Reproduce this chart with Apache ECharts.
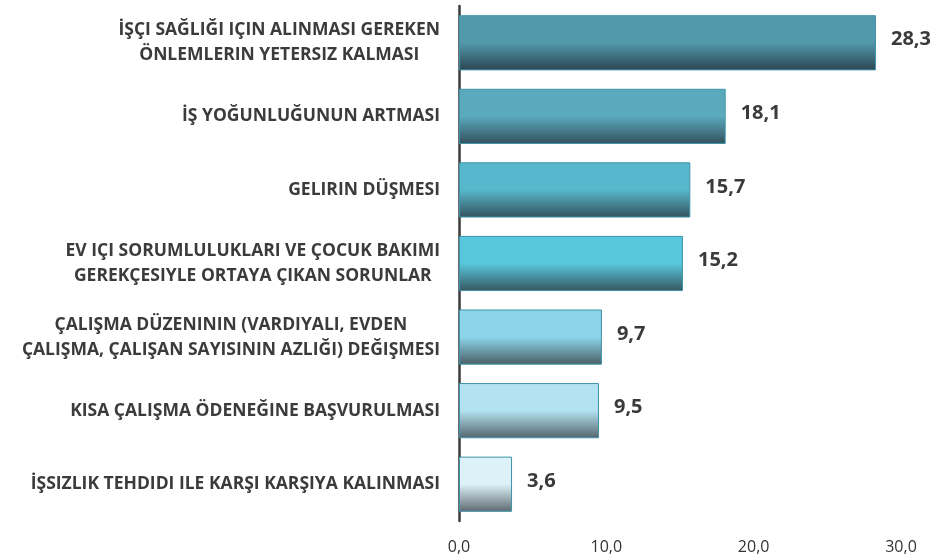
<!DOCTYPE html>
<html>
<head>
<meta charset="utf-8">
<script src="https://cdn.jsdelivr.net/npm/echarts@6/dist/echarts.min.js"></script>
<style>
  html, body { margin: 0; padding: 0; background: #fff; }
  #myChart { width: 945px; height: 558px; }
</style>
</head>
<body>
<div id="myChart"></div>
<script>
// data
const categories = [
    'İŞÇI SAĞLIĞI IÇIN ALINMASI GEREKEN\nÖNLEMLERIN YETERSIZ KALMASI',
    'İŞ YOĞUNLUĞUNUN ARTMASI',
    'GELIRIN DÜŞMESI',
    'EV IÇI SORUMLULUKLARI VE ÇOCUK BAKIMI\nGEREKÇESIYLE ORTAYA ÇIKAN SORUNLAR',
    'ÇALIŞMA DÜZENININ (VARDIYALI, EVDEN\nÇALIŞMA, ÇALIŞAN SAYISININ AZLIĞI) DEĞIŞMESI',
    'KISA ÇALIŞMA ÖDENEĞINE BAŞVURULMASI',
    'İŞSIZLIK TEHDIDI ILE KARŞI KARŞIYA KALINMASI'
];
const values = [28.3, 18.1, 15.7, 15.2, 9.7, 9.5, 3.6];

// bar colours, top to bottom
const topColors = ['#5299ab', '#5aa9bc', '#57b7cc', '#57c7dd', '#8cd5e9', '#b3e2f1', '#dcf1f8'];
const bottomColors = ['#2c4550', '#33505b', '#34525d', '#36555f', '#4a5e66', '#56656c', '#5d6a70'];
const borderColor = '#3e93a8';

const fmt = v => v.toFixed(1).replace('.', ',');

let myEchart = echarts.init(document.getElementById('myChart'));
myEchart.setOption({
    animation: false,
    grid: { left: 459, right: 44, top: 6, bottom: 37 },
    xAxis: {
        type: 'value',
        min: 0,
        max: 30,
        interval: 10,
        splitLine: { show: false },
        axisLine: { show: false },
        axisTick: { show: false },
        axisLabel: {
            margin: 18,
            fontFamily: 'Open Sans',
            fontSize: 16,
            color: '#333',
            formatter: fmt
        }
    },
    yAxis: {
        type: 'category',
        inverse: true,
        data: categories,
        axisTick: { show: false },
        axisLine: { lineStyle: { color: '#3a3a3a', width: 2.5 } },
        axisLabel: {
            margin: 19,
            align: 'right',
            color: '#3b3b3b',
            // each line centred inside the right-aligned block
            formatter: v => v.split('\n').map(s => '{c|' + s + '}').join('\n'),
            rich: {
                c: {
                    align: 'center',
                    fontFamily: 'Open Sans',
                    fontWeight: 'bold',
                    fontSize: 17.5,
                    lineHeight: 25,
                    color: '#3b3b3b'
                }
            }
        }
    },
    series: [{
        type: 'bar',
        barWidth: '75%',
        data: values.map((v, i) => ({
            value: v,
            itemStyle: {
                borderColor: borderColor,
                borderWidth: 1,
                color: new echarts.graphic.LinearGradient(0, 0, 0, 1, [
                    { offset: 0, color: topColors[i] },
                    { offset: 0.5, color: topColors[i] },
                    { offset: 1, color: bottomColors[i] }
                ])
            }
        })),
        label: {
            show: true,
            position: 'right',
            distance: 15,
            offset: [0, -3],
            fontFamily: 'Open Sans',
            fontWeight: 'bold',
            fontSize: 20,
            color: '#3a3a3a',
            formatter: p => fmt(p.value)
        }
    }]
});
window.addEventListener('resize', function () {
    myEchart.resize();
});
</script>
</body>
</html>
